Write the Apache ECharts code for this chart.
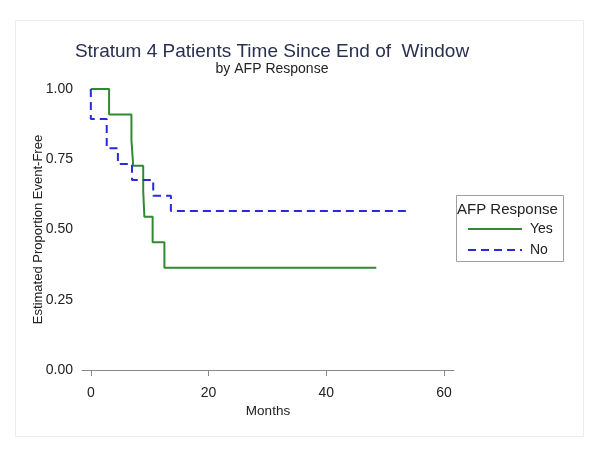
<!DOCTYPE html>
<html>
<head>
<meta charset="utf-8">
<script src="https://cdn.jsdelivr.net/npm/echarts@6/dist/echarts.min.js"></script>
<style>
html,body{margin:0;padding:0;background:#fff;}
#chart{width:601px;height:455px;}
</style>
</head>
<body>
<div id="chart"></div>
<script>
// Kaplan-Meier step points [months, proportion]
const yesMonths = [0, 3.1, 6.9, 7.2, 8.9, 9.1, 10.5, 12.5, 48.5];
const yesValues = [1.0, 0.909, 0.818, 0.727, 0.636, 0.545, 0.455, 0.364, 0.364];
const noMonths = [0, 0, 2.7, 4.6, 7.0, 10.6, 13.6, 53.6];
const noValues = [1.0, 0.893, 0.789, 0.733, 0.676, 0.62, 0.566, 0.566];
const xTicks = [0, 20, 40, 60];
const yTicks = [0, 0.25, 0.5, 0.75, 1.0];
const seriesNames = ['Yes', 'No'];

const FONT = '"Liberation Sans", Arial, sans-serif';
const chart = echarts.init(document.getElementById('chart'));
const zip = (a, b) => a.map((v, i) => [v, b[i]]);

chart.setOption({
  animation: false,
  backgroundColor: '#fff',
  title: [
    {text: 'Stratum 4 Patients Time Since End of  Window', left: 267, top: 37, textAlign: 'center',
     textStyle: {fontFamily: FONT, fontSize: 19, fontWeight: 'normal', color: '#27304f'}},
    {text: 'by AFP Response', left: 267, top: 57, textAlign: 'center',
     textStyle: {fontFamily: FONT, fontSize: 14, fontWeight: 'normal', color: '#222'}}
  ],
  graphic: [
    {type: 'rect', shape: {x: 15.5, y: 20.5, width: 568, height: 416}, style: {fill: 'none', stroke: '#ececec', lineWidth: 1}, silent: true},
    {type: 'rect', shape: {x: 456.5, y: 195.5, width: 107, height: 66}, style: {fill: '#fff', stroke: '#a0a0a0', lineWidth: 1}, z: 0},
    {type: 'text', left: 457, top: 202, style: {text: 'AFP Response', font: '15px ' + FONT, fill: '#222'}, z: 10}
  ],
  legend: {
    orient: 'vertical', left: 462, top: 217, itemWidth: 54, itemHeight: 14, itemGap: 7,
    data: seriesNames,
    itemStyle: {opacity: 0},
    textStyle: {fontFamily: FONT, fontSize: 14, color: '#222', padding: [0, 0, 0, 3]},
    z: 10
  },
  grid: {left: 82, right: 147, top: 89, bottom: 85},
  xAxis: {
    type: 'value', min: -1.5, max: 61.7, offset: 7,
    name: 'Months', nameLocation: 'middle', nameGap: 27, nameMoveOverlap: false,
    nameTextStyle: {fontFamily: FONT, fontSize: 13.5, color: '#222'},
    axisLine: {show: true, lineStyle: {color: '#888', width: 1}},
    axisTick: {show: true, length: 6, customValues: xTicks, lineStyle: {color: '#888'}},
    axisLabel: {customValues: xTicks, fontFamily: FONT, fontSize: 14, color: '#222', margin: 9},
    splitLine: {show: false}
  },
  yAxis: {
    type: 'value', min: 0, max: 1, interval: 0.25,
    name: 'Estimated Proportion Event-Free', nameLocation: 'middle', nameGap: 37, nameRotate: 90,
    nameMoveOverlap: false,
    nameTextStyle: {fontFamily: FONT, fontSize: 13, color: '#222'},
    axisLine: {show: false}, axisTick: {show: false},
    axisLabel: {fontFamily: FONT, fontSize: 14, color: '#222', margin: 9,
      formatter: v => v.toFixed(2)},
    splitLine: {show: false}
  },
  series: [
    {name: seriesNames[0], type: 'line', step: 'end', data: zip(yesMonths, yesValues),
     symbol: 'none', color: '#2e8b2e', lineStyle: {width: 2, color: '#2e8b2e'}},
    {name: seriesNames[1], type: 'line', step: 'end', data: zip(noMonths, noValues),
     symbol: 'none', color: '#2a2ad8', lineStyle: {width: 2, color: '#2a2ad8', type: [8, 5]}}
  ]
});
</script>
</body>
</html>
